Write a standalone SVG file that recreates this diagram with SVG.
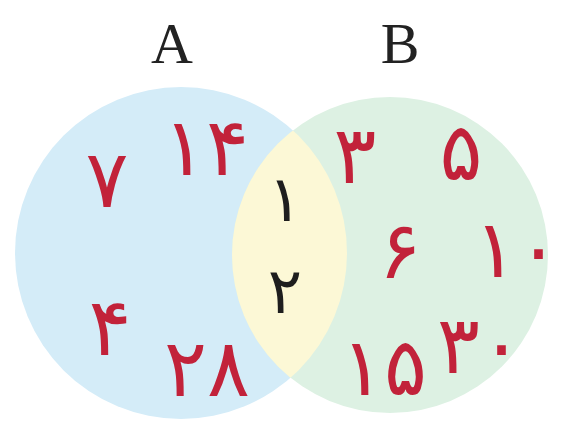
<svg xmlns="http://www.w3.org/2000/svg" width="566" height="426" viewBox="0 0 566 426">
  <style>
    .set-label { font-family: "Liberation Serif", "Times New Roman", serif; font-size: 58px; fill: #222; text-anchor: middle; }
    .num { font-family: "DejaVu Sans", sans-serif; font-size: 80px; text-anchor: middle; }
    .only { fill: #c2223a; }
    .both { fill: #1e1e1e; font-size: 64px; }
  </style>
  <defs>
    <clipPath id="clip-a">
      <circle cx="181" cy="253" r="166"/>
    </clipPath>
  </defs>

  <rect width="566" height="426" fill="#ffffff"/>

  <!-- set A -->
  <g id="set-a">
    <circle cx="181" cy="253" r="166" fill="#d4ecf8"/>
    <text class="set-label" x="172" y="63">A</text>
  </g>

  <!-- set B -->
  <g id="set-b">
    <circle cx="390" cy="255" r="158" fill="#ddf1e3"/>
    <text class="set-label" x="400" y="63">B</text>
  </g>

  <!-- A ∩ B -->
  <g id="set-ab">
    <circle cx="390" cy="255" r="158" fill="#fcf8d6" clip-path="url(#clip-a)"/>
  </g>

  <!-- elements of A only -->
  <g id="elements-a">
    <text class="num only" x="107" y="207">۷</text>
    <text class="num only" x="206" y="175">۱۴</text>
    <text class="num only" x="110" y="355">۴</text>
    <text class="num only" x="207" y="396">۲۸</text>
  </g>

  <!-- elements of both -->
  <g id="elements-ab">
    <text class="num both" x="285" y="221">۱</text>
    <text class="num both" x="285" y="313">۲</text>
  </g>

  <!-- elements of B only -->
  <g id="elements-b">
    <text class="num only" x="355" y="183">۳</text>
    <text class="num only" x="461" y="180">۵</text>
    <text class="num only" x="400" y="278">۶</text>
    <text class="num only" x="517" y="277">۱۰</text>
    <text class="num only" x="384" y="395">۱۵</text>
    <text class="num only" x="480" y="373">۳۰</text>
  </g>
</svg>
